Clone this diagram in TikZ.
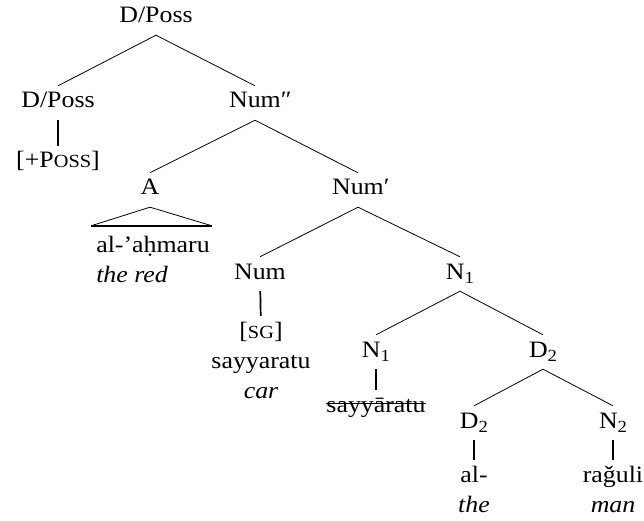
\documentclass[tikz,border=0pt]{standalone}
\usepackage{fontspec}
\setmainfont{Liberation Serif}[FakeStretch=1.1]
\usetikzlibrary{calc}
\newcommand{\treesize}{\fontsize{23.5}{28}\selectfont}
\tikzset{
  cat/.style={anchor=base,inner xsep=2pt,inner ysep=6pt,text height=16pt,text depth=6pt,font=\treesize},
  gloss/.style={cat,font=\treesize\itshape},
  br/.style={line width=0.8pt},
  bar/.style={line width=1.7pt},
}
\newcommand{\fsc}[1]{{\fontsize{18.5}{22}\selectfont #1}}
\newcommand{\idx}[1]{\raisebox{-0.2em}{\fontsize{17}{20}\selectfont #1}}
\newsavebox\strkbox
\newcommand{\strk}[1]{\sbox\strkbox{#1}\rlap{\rule[0.32em]{\wd\strkbox}{1.3pt}}\usebox\strkbox}

\begin{document}
\begin{tikzpicture}[x=1pt,y=-1pt]
  \useasboundingbox (0,0) rectangle (644,521);
  % categories
  \node[cat] (root) at (156,23) {D/Poss};
  \node[cat] (dposs) at (58,108) {D/Poss};
  \node[cat] (numbb) at (255,108) {Num\rlap{″}};
  \node[cat] (poss) at (58,168) {[+P\fsc{OSS}]};
  \node[cat] (adj) at (150,195) {A};
  \node[cat] (numb) at (358,195) {Num\rlap{′}};
  \node[cat] (num) at (260,279) {Num};
  \node[cat] (nbar) at (460,279) {N\idx{1}};
  \node[cat] (sg) at (261,338) {[\fsc{SG}]};
  \node[cat] (sayy) at (261,368) {sayyaratu};
  \node[gloss] (car) at (261,398) {car};
  \node[cat] (nlow) at (376,357) {N\idx{1}};
  \node[cat] (dbar) at (543,357) {D\idx{2}};
  \node[cat] (struck) at (376,412) {\strk{sayyāratu}};
  \node[cat] (dlow) at (474,428) {D\idx{2}};
  \node[cat] (nsub) at (613,428) {N\idx{2}};
  \node[cat] (al) at (474,482) {al-};
  \node[cat] (ragul) at (613,482) {raǧuli};
  \node[gloss] (the) at (474,512) {the};
  \node[gloss] (man) at (613,512) {man};
  \node[cat] (ahmaru) at (153,252) {al-’aḥmaru};
  \node[gloss,anchor=base west] (red) at ([yshift=-30pt]ahmaru.base west) {the red};
  % branches
  \draw[br] (dposs.north) -- (root.south) -- (numbb.north);
  \draw[br] (adj.north) -- (numbb.south) -- (numb.north);
  \draw[br] (num.north) -- (numb.south) -- (nbar.north);
  \draw[br] (nlow.north) -- (nbar.south) -- (dbar.north);
  \draw[br] (dlow.north) -- (dbar.south) -- (nsub.north);
  \draw[bar] (dposs) -- (poss);
  \draw[bar] (num) -- (sg);
  \draw[bar] (nlow) -- (struck);
  \draw[bar] (dlow) -- (al);
  \draw[bar] (nsub) -- (ragul);
  % triangle
  \coordinate (tl) at ($(ahmaru.north west)+(-3,-4)$);
  \coordinate (tr) at ($(ahmaru.north east)+(0,-4)$);
  \draw[br] (tl) -- (adj.south) -- (tr);
  \draw[bar] (tl) -- (tr);
\end{tikzpicture}
\end{document}
